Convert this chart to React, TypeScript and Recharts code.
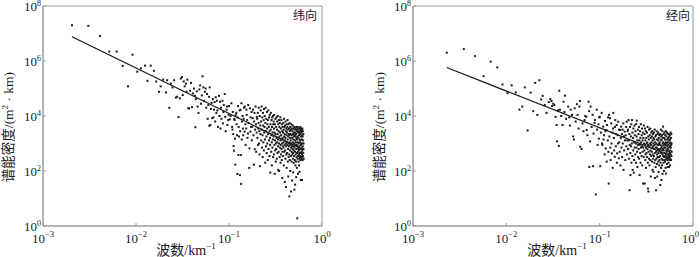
import { ScatterChart, Scatter, XAxis, YAxis, ReferenceArea } from 'recharts';

// [wavenumber km^-1, spectral energy density m^2·km]
const ZONAL_LOW: [number, number][] = [
  [0.00205, 2.0e7], [0.00307, 1.9e7], [0.0041, 8.1e6], [0.00516, 2.2e6], [0.0062, 2.2e6], [0.0072, 6.6e5],
  [0.0082, 1.2e5], [0.0092, 1.7e6], [0.0103, 4.1e5], [0.0113, 5.4e5], [0.0125, 6.8e5], [0.0133, 1.9e5],
  [0.0144, 6.8e5], [0.0156, 4.4e5], [0.0165, 1.8e5], [0.0177, 7.6e4], [0.0184, 1.2e5], [0.0196, 2.1e5],
  [0.021, 7.2e4], [0.0216, 2.0e5], [0.0228, 2.0e4], [0.0237, 1.5e5], [0.0247, 1.1e5], [0.0257, 2.0e5],
  [0.0268, 4.7e4], [0.0277, 5.0e4], [0.0287, 9.1e3], [0.0296, 4.4e4], [0.0303, 2.3e5], [0.0312, 2.6e5],
  [0.0318, 5.8e4], [0.0326, 1.8e5], [0.0334, 1.2e5], [0.0344, 1.5e5], [0.035, 7.6e4], [0.0356, 2.1e5],
  [0.0364, 1.9e4], [0.0372, 1.9e4], [0.0381, 8.3e4], [0.039, 1.6e5],
  [0.04, 2.1e4], [0.041, 6.6e4], [0.042, 1.0e5], [0.043, 5.4e4], [0.0435, 3.9e3], [0.044, 4.1e4],
  [0.045, 7.9e4], [0.046, 2.2e4], [0.047, 1.3e4], [0.048, 9.3e4], [0.049, 1.3e5], [0.05, 2.8e4],
  [0.051, 5.6e4], [0.052, 2.8e5], [0.053, 1.1e5], [0.054, 3.5e4], [0.055, 7.6e4], [0.056, 1.0e5],
  [0.057, 2.0e4], [0.058, 6.3e4], [0.059, 7.9e3], [0.06, 2.5e4], [0.061, 5.0e4], [0.0615, 4.4e3],
  [0.062, 1.1e5], [0.063, 4.7e3], [0.064, 1.8e4], [0.065, 3.0e4], [0.066, 8.3e3], [0.067, 4.1e4],
  [0.068, 8.9e3], [0.069, 1.7e4], [0.07, 3.2e4], [0.071, 6.3e3], [0.072, 4.8e4], [0.073, 1.3e4],
  [0.074, 3.6e4], [0.075, 1.6e4], [0.076, 4.0e3], [0.078, 5.4e4], [0.079, 1.0e4], [0.08, 3.3e4],
  [0.081, 3.5e3], [0.082, 2.0e4], [0.083, 7.9e3], [0.085, 3.6e4], [0.086, 5.4e3], [0.087, 1.4e4],
  [0.088, 2.5e4], [0.09, 6.3e4], [0.091, 9.3e3], [0.092, 2.8e3], [0.094, 1.7e4], [0.095, 2.2e4],
  [0.096, 4.7e3], [0.098, 7.1e3], [0.099, 1.1e4],
];

const ZONAL_MID: [number, number][] = [
  [0.1, 2.3e4], [0.102, 7.6e3], [0.104, 1.0e4], [0.106, 2.9e4], [0.108, 4.0e3], [0.109, 3.2e3],
  [0.11, 1.4e4], [0.111, 2.2e3], [0.112, 810], [0.113, 550], [0.114, 7.9e3], [0.115, 7.1e3],
  [0.116, 1.5e3], [0.117, 170], [0.118, 1.1e4], [0.12, 1.3e4], [0.121, 5.0e3], [0.122, 2.0e3],
  [0.123, 78], [0.124, 8.9e3], [0.125, 2.3e4], [0.126, 380], [0.127, 4.0e3], [0.128, 1.8e3],
  [0.13, 1.6e4], [0.131, 71], [0.132, 2.8e3], [0.133, 1.7e4], [0.134, 380], [0.135, 34],
  [0.136, 2.9e4], [0.137, 1.4e3], [0.138, 6.3e3], [0.14, 1.0e4], [0.141, 3.5e3], [0.142, 2.0e3],
  [0.144, 7.9e3], [0.145, 2.0e4], [0.147, 2.7e3], [0.148, 2.2e4], [0.15, 5.0e3], [0.151, 890],
  [0.153, 3.5e3], [0.154, 1.7e4], [0.155, 1.1e4], [0.157, 7.1e3], [0.158, 1.6e3], [0.16, 2.3e3],
  [0.161, 2.5e4], [0.163, 5.6e3], [0.165, 130], [0.166, 660], [0.168, 1.9e4], [0.17, 2.7e3],
  [0.171, 8.9e3], [0.173, 4.0e3], [0.175, 1.4e4], [0.176, 1.3e3], [0.178, 4.1e3], [0.18, 8.3e3],
  [0.181, 1.7e4], [0.183, 2.0e3], [0.185, 170], [0.186, 6.3e3], [0.188, 1.3e4], [0.189, 620],
  [0.191, 3.2e3], [0.193, 2.2e4], [0.195, 5.0e3], [0.196, 500], [0.198, 2.5e3], [0.199, 9.3e3],
  [0.201, 7.9e3], [0.202, 1.6e3], [0.204, 1.3e4], [0.205, 890], [0.206, 3.5e3], [0.208, 5.6e3],
  [0.209, 2.0e4], [0.21, 1.0e3], [0.212, 2.8e3], [0.213, 400], [0.214, 1.0e4], [0.215, 150],
  [0.217, 4.5e3], [0.218, 2.2e3], [0.219, 1.6e4], [0.221, 6.3e3], [0.222, 1.3e3], [0.224, 2.2e4],
  [0.225, 3.2e3], [0.226, 710], [0.228, 8.9e3], [0.229, 2.0e3], [0.23, 320], [0.232, 1.3e4],
  [0.233, 4.5e3], [0.234, 1.1e3], [0.236, 7.1e3], [0.237, 560], [0.238, 1.8e4], [0.239, 2.5e3],
  [0.241, 4.0e3], [0.242, 1.0e4], [0.244, 1.4e3], [0.245, 200], [0.246, 5.6e3], [0.248, 2.0e4],
  [0.249, 2.8e3], [0.25, 790], [0.252, 7.9e3], [0.253, 1.8e3], [0.254, 450], [0.256, 1.4e4],
  [0.257, 3.5e3], [0.258, 1.0e3], [0.259, 5.0e3], [0.261, 250], [0.262, 7.1e3], [0.264, 2.2e3],
  [0.265, 1.6e4], [0.266, 630], [0.268, 4.0e3], [0.269, 1.3e3], [0.27, 8.9e3], [0.272, 350],
  [0.273, 2.8e3], [0.274, 1.1e4], [0.276, 1.6e3], [0.277, 890], [0.278, 87], [0.279, 5.0e3],
  [0.281, 3.2e3], [0.282, 1.3e4], [0.284, 500], [0.285, 2.0e3], [0.286, 7.1e3], [0.288, 1.1e3],
  [0.289, 160], [0.29, 4.0e3], [0.292, 8.9e3], [0.293, 710], [0.294, 2.5e3], [0.296, 1.4e3],
  [0.297, 1.0e4], [0.298, 320], [0.299, 5.0e3],
];

const ZONAL_HIGH: [number, number][] = [
  [0.301, 1.8e3], [0.302, 6.3e3], [0.304, 400], [0.305, 3.5e3], [0.306, 1.1e4], [0.308, 890],
  [0.309, 2.5e3], [0.31, 79], [0.312, 5.0e3], [0.313, 1.3e3], [0.314, 560], [0.316, 7.9e3],
  [0.317, 2.2e3], [0.318, 220], [0.319, 1.0e3], [0.321, 4.0e3], [0.322, 630], [0.324, 8.9e3],
  [0.325, 1.6e3], [0.326, 280], [0.328, 3.2e3], [0.329, 1.1e3], [0.33, 6.3e3], [0.332, 450],
  [0.333, 2.2e3], [0.334, 1.0e4], [0.336, 790], [0.337, 1.4e3], [0.338, 110], [0.339, 5.0e3],
  [0.341, 2.8e3], [0.342, 500], [0.344, 7.1e3], [0.345, 1.0e3], [0.346, 100], [0.348, 4.0e3],
  [0.349, 1.8e3], [0.35, 320], [0.352, 5.6e3], [0.353, 710], [0.354, 2.5e3], [0.356, 8.9e3],
  [0.357, 1.3e3], [0.358, 200], [0.359, 890], [0.361, 3.5e3], [0.362, 400], [0.364, 2.0e3],
  [0.365, 7.1e3], [0.366, 630], [0.368, 1.4e3], [0.369, 250], [0.37, 5.0e3], [0.372, 1.0e3],
  [0.373, 2.8e3], [0.374, 56], [0.376, 500], [0.377, 4.0e3], [0.378, 1.6e3], [0.379, 790],
  [0.381, 2.5e3], [0.382, 350], [0.384, 5.6e3], [0.385, 1.1e3], [0.386, 710], [0.388, 3.2e3],
  [0.389, 160], [0.39, 7.9e3], [0.392, 1.8e3], [0.393, 500], [0.394, 4.0e3], [0.396, 890],
  [0.397, 2.2e3], [0.398, 40], [0.399, 1.3e3], [0.401, 4.5e3], [0.402, 560], [0.404, 1.6e3],
  [0.405, 280], [0.406, 6.3e3], [0.408, 1.0e3], [0.409, 2.8e3], [0.41, 26], [0.412, 790],
  [0.413, 3.5e3], [0.414, 400], [0.416, 2.0e3], [0.417, 130], [0.418, 5.0e3], [0.419, 1.1e3],
  [0.421, 2.5e3], [0.422, 450], [0.424, 4.0e3], [0.425, 890], [0.426, 7.1e3], [0.428, 1.4e3],
  [0.429, 220], [0.43, 3.2e3], [0.432, 630], [0.433, 1.8e3], [0.434, 63], [0.436, 5.0e3],
  [0.437, 1.0e3], [0.438, 320], [0.439, 2.2e3], [0.441, 790], [0.442, 3.5e3], [0.444, 400],
  [0.445, 2.0e3], [0.446, 12], [0.448, 5.6e3], [0.449, 1.1e3], [0.45, 250], [0.452, 2.8e3],
  [0.453, 560], [0.454, 1.6e3], [0.456, 100], [0.457, 4.0e3], [0.458, 890], [0.459, 2.2e3],
  [0.461, 1.3e3], [0.462, 350], [0.464, 3.2e3], [0.465, 710], [0.466, 18], [0.468, 5.0e3],
  [0.469, 1.0e3], [0.47, 220], [0.472, 2.0e3], [0.473, 500], [0.474, 3.5e3], [0.476, 790],
  [0.477, 45], [0.478, 1.6e3], [0.479, 400], [0.481, 2.8e3], [0.482, 630], [0.484, 4.5e3],
  [0.485, 1.1e3], [0.486, 280], [0.488, 2.2e3], [0.489, 450], [0.49, 89], [0.492, 1.4e3],
  [0.493, 3.5e3], [0.494, 790], [0.496, 200], [0.497, 1.8e3], [0.498, 560], [0.499, 2.5e3],
  [0.501, 1.0e3], [0.502, 350], [0.504, 4.0e3], [0.505, 21], [0.506, 710], [0.508, 2.0e3],
  [0.509, 250], [0.51, 3.2e3], [0.512, 1.3e3], [0.513, 500], [0.514, 32], [0.516, 2.5e3],
  [0.517, 890], [0.518, 160], [0.519, 1.8e3], [0.521, 400], [0.522, 3.5e3], [0.524, 1.1e3],
  [0.525, 220], [0.526, 2.2e3], [0.528, 60], [0.529, 630], [0.53, 4.0e3], [0.532, 1.6e3],
  [0.533, 320], [0.534, 890], [0.536, 2.8e3], [0.537, 130], [0.538, 1.4e3], [0.539, 450],
  [0.541, 3.2e3], [0.542, 1.9], [0.544, 790], [0.545, 1.8e3], [0.546, 280], [0.548, 4.0e3],
  [0.549, 500], [0.55, 1.1e3], [0.552, 79], [0.553, 2.5e3], [0.554, 350], [0.556, 1.6e3],
  [0.557, 630], [0.558, 3.5e3], [0.559, 220], [0.561, 1.0e3], [0.562, 400], [0.564, 2.8e3],
  [0.565, 560], [0.566, 2.0e3], [0.568, 160], [0.569, 3.5e3], [0.57, 790], [0.572, 280],
  [0.573, 1.4e3], [0.574, 93], [0.576, 2.5e3], [0.577, 450], [0.578, 1.1e3], [0.579, 320],
  [0.581, 2.2e3], [0.582, 350], [0.584, 4.0e3], [0.585, 630], [0.586, 1.3e3], [0.588, 250],
  [0.589, 3.2e3], [0.59, 47], [0.592, 890], [0.593, 1.8e3], [0.594, 450], [0.596, 2.8e3],
  [0.597, 320], [0.598, 1.0e3], [0.599, 3.5e3], [0.601, 500], [0.602, 2.5e3], [0.604, 280],
  [0.605, 1.4e3], [0.606, 710], [0.608, 3.2e3], [0.609, 400], [0.61, 47], [0.612, 2.0e3],
  [0.613, 320], [0.614, 1.0e3], [0.616, 3.5e3], [0.617, 560], [0.618, 250], [0.62, 1.8e3],
  [0.621, 790], [0.623, 2.8e3], [0.624, 350], [0.626, 1.3e3], [0.628, 450], [0.63, 2.2e3],
  [0.632, 630], [0.634, 1.0e3], [0.636, 280],
];

const MERID_LOW: [number, number][] = [
  [0.0023, 2.0e6], [0.0035, 2.7e6], [0.0046, 1.5e6], [0.0057, 2.8e5], [0.0068, 9.5e5], [0.008, 5.9e5],
  [0.0091, 1.4e5], [0.0103, 6.8e4], [0.0114, 1.3e5], [0.0126, 7.2e4], [0.0138, 1.7e4], [0.0148, 2.2e4],
  [0.0158, 1.1e5], [0.0169, 3.0e3], [0.0182, 7.1e4], [0.0194, 1.5e4], [0.0204, 1.6e5], [0.0215, 1.1e4],
  [0.0226, 2.0e5], [0.0236, 4.0e4], [0.0245, 5.4e4], [0.0258, 2.5e4], [0.027, 1.3e4], [0.0285, 3.2e4],
  [0.0296, 4.1e4], [0.0305, 3.5e4], [0.0309, 2.3e4], [0.0318, 2.8e4], [0.0326, 2.5e4], [0.0337, 9.3e3],
  [0.0345, 4.7e3], [0.035, 1.2e3], [0.0358, 1.6e4], [0.0365, 810], [0.0369, 8.3e4], [0.0375, 1.7e4],
  [0.0387, 1.0e4], [0.04, 4.7e3], [0.041, 3.3e4], [0.042, 1.4e4], [0.0425, 5.5e4], [0.0437, 7.9e3],
  [0.046, 2.2e4], [0.0472, 8.9e3], [0.048, 4.5e3], [0.049, 1.7e4], [0.0505, 1.1e4], [0.052, 1.8e3],
  [0.053, 1.4e3], [0.054, 1.9e4], [0.0553, 6.3e3], [0.057, 2.7e4], [0.058, 1.1e4], [0.0595, 3.5e3],
  [0.0607, 2.2e4], [0.0616, 3.5e4], [0.062, 760], [0.064, 630], [0.0655, 5.4e3], [0.067, 2.8e3],
  [0.069, 7.1e3], [0.07, 1.0e4], [0.072, 9.3e3], [0.0725, 3.1e3], [0.074, 2.0e3], [0.076, 3.3e4],
  [0.077, 1.5e4], [0.0775, 140], [0.079, 1.2e3], [0.08, 2.2e4], [0.082, 4.0e3], [0.084, 1.1e4],
  [0.085, 150], [0.086, 2.3e3], [0.088, 5.6e3], [0.089, 7.1e3], [0.091, 14], [0.093, 1.7e4],
  [0.094, 3.2e3], [0.095, 890], [0.097, 5.0e3], [0.098, 1.5e3], [0.099, 8.9e3],
];

const MERID_MID: [number, number][] = [
  [0.1, 9.3e3], [0.1015, 150], [0.103, 2.5e3], [0.105, 1.3e4], [0.106, 1.0e3], [0.107, 890],
  [0.109, 4.1e3], [0.11, 1.4e3], [0.111, 2.0e3], [0.113, 400], [0.114, 6.6e3], [0.115, 2.8e3],
  [0.116, 660], [0.118, 3.1e3], [0.119, 220], [0.12, 4.7e3], [0.122, 1.3e3], [0.123, 8.9e3],
  [0.124, 500], [0.125, 35], [0.126, 1.1e4], [0.127, 1.8e3], [0.129, 8.3e3], [0.13, 710],
  [0.131, 250], [0.133, 5.4e3], [0.134, 1.0e3], [0.135, 440], [0.137, 2.5e3], [0.138, 130],
  [0.139, 3.5e3], [0.14, 1.3e4], [0.142, 1.6e3], [0.143, 560], [0.145, 330], [0.146, 4.0e3],
  [0.147, 7.1e3], [0.149, 790], [0.15, 2.2e3], [0.152, 4.7e3], [0.153, 200], [0.154, 440],
  [0.156, 2.0e3], [0.157, 1.0e3], [0.158, 6.2e3], [0.16, 290], [0.161, 3.2e3], [0.162, 1.1e3],
  [0.164, 500], [0.166, 3.1e3], [0.167, 160], [0.168, 1.6e3], [0.17, 4.1e3], [0.171, 710],
  [0.173, 2.2e3], [0.174, 320], [0.176, 3.2e3], [0.177, 1.0e3], [0.179, 5.4e3], [0.18, 110],
  [0.182, 1.8e3], [0.183, 560], [0.185, 2.7e3], [0.187, 1.3e3], [0.188, 250], [0.19, 2.0e3],
  [0.192, 4.0e3], [0.193, 790], [0.195, 6.2e3], [0.196, 400], [0.198, 1.3e3], [0.199, 2.8e3],
  [0.201, 3.2e3], [0.202, 630], [0.204, 7.1e3], [0.205, 1.3e3], [0.206, 280], [0.208, 2.2e3],
  [0.209, 20], [0.21, 890], [0.212, 4.0e3], [0.213, 450], [0.214, 71], [0.216, 1.8e3],
  [0.217, 790], [0.218, 5.0e3], [0.219, 200], [0.221, 1.0e3], [0.222, 7.1e3], [0.224, 350],
  [0.225, 2.5e3], [0.226, 110], [0.228, 1.6e3], [0.229, 560], [0.23, 3.5e3], [0.232, 87],
  [0.233, 1.1e3], [0.234, 250], [0.236, 4.5e3], [0.237, 710], [0.238, 2.0e3], [0.241, 400],
  [0.242, 2.8e3], [0.244, 1.0e3], [0.245, 200], [0.246, 5.1e3], [0.248, 710], [0.249, 1.8e3],
  [0.25, 6.8e3], [0.252, 500], [0.253, 1.3e3], [0.254, 140], [0.256, 3.2e3], [0.257, 890],
  [0.258, 320], [0.261, 2.2e3], [0.262, 630], [0.264, 4.0e3], [0.265, 280], [0.266, 1.3e3],
  [0.268, 71], [0.269, 890], [0.27, 2.8e3], [0.272, 450], [0.273, 1.6e3], [0.274, 200],
  [0.276, 5.0e3], [0.277, 710], [0.278, 1.1e3], [0.281, 350], [0.282, 2.0e3], [0.284, 790],
  [0.285, 3.5e3], [0.286, 160], [0.288, 1.3e3], [0.289, 500], [0.29, 2.5e3], [0.292, 35],
  [0.293, 710], [0.294, 1.6e3], [0.296, 320], [0.297, 4.5e3], [0.298, 1.0e3],
];

const MERID_HIGH: [number, number][] = [
  [0.301, 560], [0.302, 2.2e3], [0.304, 35], [0.305, 890], [0.306, 3.5e3], [0.308, 250],
  [0.309, 1.3e3], [0.31, 400], [0.312, 2.8e3], [0.313, 710], [0.314, 130], [0.316, 1.6e3],
  [0.317, 450], [0.318, 1.0e3], [0.321, 2.5e3], [0.322, 320], [0.324, 1.1e3], [0.325, 630],
  [0.326, 4.0e3], [0.328, 200], [0.329, 23], [0.33, 890], [0.332, 1.8e3], [0.333, 18],
  [0.334, 500], [0.336, 1.4e3], [0.337, 280], [0.338, 3.2e3], [0.341, 790], [0.342, 160],
  [0.344, 2.0e3], [0.345, 400], [0.346, 1.0e3], [0.348, 3.5e3], [0.349, 250], [0.35, 560],
  [0.352, 1.6e3], [0.353, 63], [0.354, 890], [0.356, 2.5e3], [0.357, 350], [0.358, 1.1e3],
  [0.361, 500], [0.362, 1.8e3], [0.364, 220], [0.365, 2.8e3], [0.366, 710], [0.368, 110],
  [0.369, 1.3e3], [0.37, 400], [0.372, 2.2e3], [0.373, 790], [0.374, 280], [0.376, 1.0e3],
  [0.377, 93], [0.378, 1.6e3], [0.381, 350], [0.382, 2.5e3], [0.384, 630], [0.385, 1.4e3],
  [0.386, 200], [0.388, 890], [0.389, 3.2e3], [0.39, 450], [0.392, 56], [0.393, 1.1e3],
  [0.394, 250], [0.396, 1.8e3], [0.397, 710], [0.398, 140], [0.401, 2.0e3], [0.402, 20],
  [0.404, 500], [0.405, 1.0e3], [0.406, 280], [0.408, 2.8e3], [0.409, 710], [0.41, 180],
  [0.412, 1.4e3], [0.413, 400], [0.414, 63], [0.416, 890], [0.417, 2.2e3], [0.418, 320],
  [0.421, 630], [0.422, 1.3e3], [0.424, 220], [0.425, 2.5e3], [0.426, 450], [0.428, 93],
  [0.429, 890], [0.43, 1.6e3], [0.432, 320], [0.433, 1.0e3], [0.434, 160], [0.436, 2.0e3],
  [0.437, 560], [0.438, 250], [0.441, 1.1e3], [0.442, 350], [0.444, 2.2e3], [0.445, 630],
  [0.446, 31], [0.448, 890], [0.449, 200], [0.45, 1.4e3], [0.452, 450], [0.453, 3.2e3],
  [0.454, 130], [0.456, 710], [0.457, 1.8e3], [0.458, 47], [0.461, 280], [0.462, 1.3e3],
  [0.464, 560], [0.465, 2.0e3], [0.466, 160], [0.468, 790], [0.469, 2.8e3], [0.47, 400],
  [0.472, 79], [0.473, 1.0e3], [0.474, 250], [0.476, 1.6e3], [0.477, 630], [0.478, 4.1e3],
  [0.481, 350], [0.482, 1.1e3], [0.484, 200], [0.485, 2.2e3], [0.486, 560], [0.488, 890],
  [0.489, 100], [0.49, 1.6e3], [0.492, 320], [0.493, 710], [0.494, 2.5e3], [0.496, 250],
  [0.497, 1.0e3], [0.498, 450], [0.501, 1.4e3], [0.502, 220], [0.504, 710], [0.505, 2.0e3],
  [0.506, 350], [0.508, 130], [0.509, 890], [0.51, 2.8e3], [0.512, 400], [0.513, 81],
  [0.514, 1.1e3], [0.516, 280], [0.517, 560], [0.518, 1.8e3], [0.521, 320], [0.522, 1.0e3],
  [0.524, 500], [0.525, 2.5e3], [0.526, 180], [0.528, 790], [0.529, 1.4e3], [0.53, 250],
  [0.532, 630], [0.533, 2.3e3], [0.534, 140], [0.536, 400], [0.537, 1.1e3], [0.538, 280],
  [0.541, 560], [0.542, 1.6e3], [0.544, 320], [0.545, 890], [0.546, 200], [0.548, 2.2e3],
  [0.549, 400], [0.55, 710], [0.552, 140], [0.553, 1.3e3], [0.554, 350], [0.556, 1.8e3],
  [0.557, 250], [0.558, 500], [0.561, 1.0e3], [0.562, 320], [0.564, 2.0e3], [0.565, 450],
  [0.566, 160], [0.568, 790], [0.569, 1.4e3], [0.57, 280], [0.572, 560], [0.573, 1.1e3],
  [0.575, 2.5e3], [0.577, 400], [0.578, 710], [0.58, 1.6e3], [0.582, 250], [0.584, 890],
  [0.585, 2.2e3], [0.587, 350], [0.589, 1.0e3], [0.591, 500],
];

// fitted power-law lines (end points)
const ZONAL_FIT: [number, number][] = [[0.00205, 7.6e6], [0.625, 600]];
const MERID_FIT: [number, number][] = [[0.0023, 5.8e5], [0.563, 370]];

const X_TICKS = [0.001, 0.01, 0.1, 1];
const Y_TICKS = [1, 1e2, 1e4, 1e6, 1e8];

const FRAME = '#9a9a9a';
const INK = '#1a1a1a';
const SERIF = '"Liberation Serif", "Times New Roman", serif';
const CJK = '"Liberation Serif", "Noto Sans CJK SC", serif';

const toRows = (pts: [number, number][]) => pts.map(([k, e]) => ({ k, e }));

const expOf = (v: number) => {
  const n = Math.round(Math.log10(v));
  return n < 0 ? `\u2212${-n}` : `${n}`;
};

// clampRight: keep the label inside the page when it sits on the right edge
function XTick({ x, y, payload, clampRight }: any) {
  const atEdge = clampRight && payload.value === 1;
  return (
    <g>
      <line x1={x} x2={x} y1={y} y2={y - 3} stroke={FRAME} />
      <text
        x={atEdge ? x + 6 : x} y={y + 17} textAnchor={atEdge ? 'end' : 'middle'}
        fontFamily={SERIF} fontSize={13} fill={INK}
      >
        10<tspan dy={-6} fontSize={8.5}>{expOf(payload.value)}</tspan>
      </text>
    </g>
  );
}

function YTick({ x, y, payload }: any) {
  return (
    <g>
      <line x1={x} x2={x + 3} y1={y} y2={y} stroke={FRAME} />
      <text x={x - 2} y={y + 5} textAnchor="end" fontFamily={SERIF} fontSize={13} fill={INK}>
        10<tspan dy={-5} fontSize={8}>{expOf(payload.value)}</tspan>
      </text>
    </g>
  );
}

const Dot = (p: any) => <rect x={p.cx - 1} y={p.cy - 1} width={2} height={2} fill={INK} />;

interface PanelProps {
  groups: [number, number][][];
  fit: [number, number][];
  title: string;
  axisWidth: number;
  rightMargin: number;
  yLabelX: number;
  xLabelX: number;
  titleX: number;
  clampRight?: boolean;
}

function Panel({ groups, fit, title, axisWidth, rightMargin, yLabelX, xLabelX, titleX, clampRight }: PanelProps) {
  return (
    <div style={{ position: 'relative', width: 350, height: 257 }}>
      <ScatterChart width={350} height={257} margin={{ top: 6, right: rightMargin, bottom: 0, left: 0 }}>
        <XAxis
          type="number" dataKey="k" scale="log" domain={[0.001, 1]} ticks={X_TICKS} interval={0}
          allowDataOverflow height={31} tickLine={false} tickSize={0} tickMargin={0}
          axisLine={{ stroke: FRAME }} tick={(p: any) => <XTick {...p} clampRight={clampRight} />}
        />
        <YAxis
          type="number" dataKey="e" scale="log" domain={[1, 1e8]} ticks={Y_TICKS} interval={0}
          allowDataOverflow width={axisWidth} tickLine={false} tickSize={0} tickMargin={0}
          axisLine={{ stroke: FRAME }} tick={(p: any) => <YTick {...p} />}
        />
        <ReferenceArea x1={0.001} x2={1} y1={1} y2={1e8} fill="none" stroke={FRAME} strokeWidth={1} />
        {groups.map((g, i) => (
          <Scatter key={i} data={toRows(g)} shape={Dot} isAnimationActive={false} />
        ))}
        <Scatter
          data={toRows(fit)} line={{ stroke: INK, strokeWidth: 1.3 }} shape={() => <g />}
          isAnimationActive={false}
        />
      </ScatterChart>
      <svg width={350} height={257} style={{ position: 'absolute', left: 0, top: 0, pointerEvents: 'none' }}>
        <text transform={`translate(${yLabelX},127) rotate(-90)`} textAnchor="middle" fontFamily={CJK} fontSize={13.5} fill={INK}>
          谱能密度/(m<tspan dy={-5} fontSize={9}>2</tspan><tspan dy={5}> · km)</tspan>
        </text>
        <text x={xLabelX} y={255} textAnchor="middle" fontFamily={CJK} fontSize={14} fill={INK}>
          波数/km<tspan dy={-6} fontSize={9}>{'\u22121'}</tspan>
        </text>
        <text x={titleX} y={20} textAnchor="end" fontFamily={CJK} fontSize={12} fill={INK}>
          {title}
        </text>
      </svg>
    </div>
  );
}

export default function App() {
  return (
    <div style={{ position: 'absolute', left: 0, top: 0, width: 700, height: 257, display: 'flex', background: '#fff' }}>
      <Panel
        groups={[ZONAL_LOW, ZONAL_MID, ZONAL_HIGH]} fit={ZONAL_FIT} title="纬向"
        axisWidth={43} rightMargin={28} yLabelX={13} xLabelX={186} titleX={317}
      />
      <Panel
        groups={[MERID_LOW, MERID_MID, MERID_HIGH]} fit={MERID_FIT} title="经向"
        axisWidth={63} rightMargin={7} yLabelX={34} xLabelX={207} titleX={340} clampRight
      />
    </div>
  );
}
